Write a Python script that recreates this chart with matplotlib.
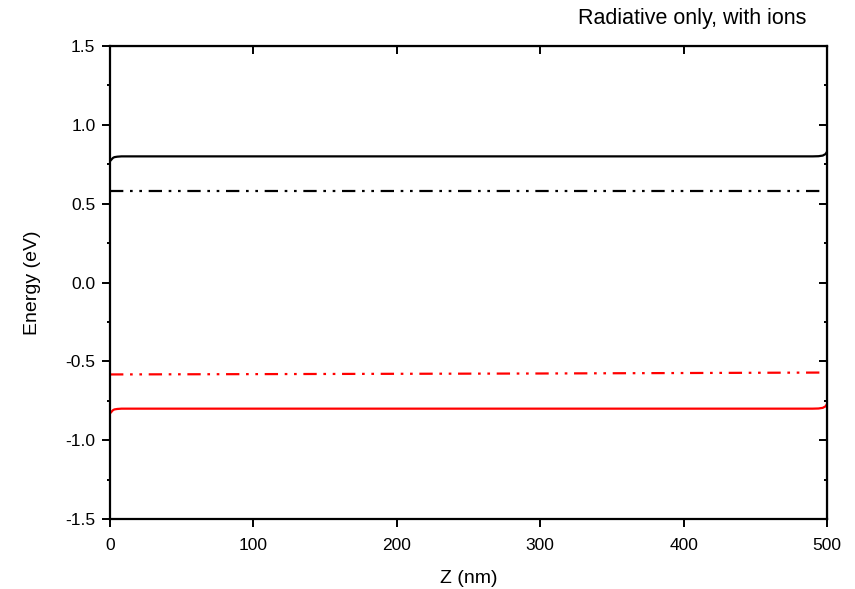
import matplotlib.pyplot as plt
import matplotlib
from matplotlib.ticker import MultipleLocator

matplotlib.rcParams['font.family'] = ['Liberation Sans', 'DejaVu Sans']
matplotlib.rcParams['font.size'] = 12.5
matplotlib.rcParams['axes.unicode_minus'] = False

# depth positions (nm) and band energies (eV)
z = [0, 1, 2, 3, 5, 8, 12, 20, 100, 250, 400, 480, 490, 494, 497, 499, 500]
ec = [0.77, 0.78, 0.79, 0.795, 0.798, 0.80, 0.80, 0.80, 0.80, 0.80, 0.80, 0.80, 0.80, 0.801, 0.805, 0.815, 0.83]
ev = [-0.83, -0.82, -0.81, -0.805, -0.802, -0.80, -0.80, -0.80, -0.80, -0.80, -0.80, -0.80, -0.80, -0.799, -0.795, -0.785, -0.77]
z_f = [0, 100, 200, 300, 400, 500]
efn = [0.58, 0.58, 0.58, 0.58, 0.58, 0.58]
efp = [-0.583, -0.581, -0.579, -0.577, -0.574, -0.571]

fig = plt.figure(figsize=(8.55, 5.89), dpi=100)
ax = fig.add_axes([0.1287, 0.1188, 0.8386, 0.8031])

dashdotdot = (0, (6, 3, 1.2, 3, 1.2, 3))
ax.plot(z, ec, color='black', lw=1.6)
ax.plot(z_f, efn, color='black', lw=1.6, linestyle=dashdotdot)
ax.plot(z_f, efp, color='red', lw=1.6, linestyle=dashdotdot)
ax.plot(z, ev, color='red', lw=1.6)

ax.set_xlim(0, 500)
ax.set_ylim(-1.5, 1.5)
ax.xaxis.set_major_locator(MultipleLocator(100))
ax.yaxis.set_major_locator(MultipleLocator(0.5))
ax.yaxis.set_minor_locator(MultipleLocator(0.25))
ax.tick_params(which='major', direction='out', length=5.5, width=1.4, pad=5)
ax.tick_params(which='minor', direction='out', length=2.5, width=1.4)
ax.tick_params(axis='x', which='major', pad=8)
for s in ax.spines.values():
    s.set_linewidth(1.6)

# inward ticks on right and top
ry = ax.secondary_yaxis('right')
ry.yaxis.set_major_locator(MultipleLocator(0.5))
ry.yaxis.set_minor_locator(MultipleLocator(0.25))
ry.tick_params(which='major', direction='in', length=5.5, width=1.4, labelright=False)
ry.tick_params(which='minor', direction='in', length=2.5, width=1.4)
tx = ax.secondary_xaxis('top')
tx.xaxis.set_major_locator(MultipleLocator(100))
tx.tick_params(which='major', direction='in', length=5.5, width=1.4, labeltop=False)

ax.set_xlabel('Z (nm)', fontsize=14)
ax.set_ylabel('Energy (eV)', fontsize=14)
ax.xaxis.set_label_coords(0.5, -0.108)
ax.yaxis.set_label_coords(-0.096, 0.5)
fig.text(0.943, 0.968, 'Radiative only, with ions', ha='right', va='center', fontsize=15.5)

plt.savefig('out.png', dpi=100)
